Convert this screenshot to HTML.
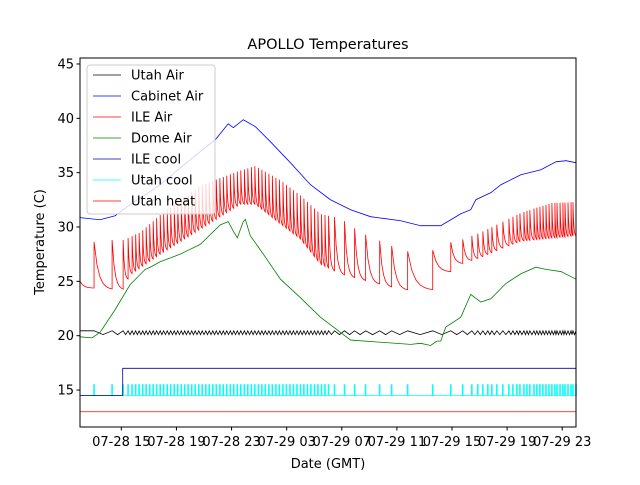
<!DOCTYPE html>
<html><head><meta charset="utf-8"><style>
body{margin:0;background:#fff}
svg text{font-family:"DejaVu Sans","Liberation Sans",sans-serif;fill:#000}
</style></head><body>
<svg id="chart" width="640" height="480" viewBox="0 0 640 480" xmlns="http://www.w3.org/2000/svg">
<rect width="640" height="480" fill="#fff"/>
<g id="plot"></g>
<rect x="80" y="58" width="496" height="369" fill="none" stroke="#000" stroke-width="1"/>
<g id="axes"></g>
<text x="328" y="49" font-size="14.5" text-anchor="middle">APOLLO Temperatures</text>
<text x="328" y="468" font-size="13" text-anchor="middle">Date (GMT)</text>
<text transform="translate(44,242) rotate(-90)" font-size="13" text-anchor="middle">Temperature (C)</text>
<g id="legend"></g>
</svg>
<script>
const yTicks=[15,20,25,30,35,40,45];
const xTickHours=[15,19,23,27,31,35,39,43,47];
const xTickLabels=["07-28 15","07-28 19","07-28 23","07-29 03","07-29 07","07-29 11","07-29 15","07-29 19","07-29 23"];
const seriesNames=["Utah Air","Cabinet Air","ILE Air","Dome Air","ILE cool","Utah cool","Utah heat"];
const cabTimes=[12,13.45,14.55,15.64,17.82,20,21.82,22.76,23.13,23.85,24.73,25.82,27.27,28.73,30.18,31.64,33.09,35.27,36.73,38.18,38.91,39.64,40.36,40.73,41.82,42.55,44,45.45,46.55,47.27,48];
const cabVals=[30.86,30.67,31.04,32.05,33.89,36.19,38.03,39.5,39.14,39.87,39.23,37.85,35.92,33.89,32.51,31.59,30.95,30.58,30.12,30.12,30.67,31.22,31.59,32.51,33.16,33.89,34.81,35.27,36.0,36.1,35.92];
const domeTimes=[12,12.87,13.45,14.55,15.64,16.73,17.09,17.82,19.27,20.73,22.18,22.76,23.13,23.42,23.85,24,24.36,25.09,26.55,28,29.45,30.91,31.64,33.82,36,36.73,37.45,37.89,38.18,38.55,39.64,40.36,41.09,41.82,42.91,44,45.09,45.82,46.91,48];
const domeVals=[19.9,19.8,20.3,22.4,24.7,26.1,26.3,26.8,27.5,28.4,30.2,30.5,29.6,29.0,30.5,30.7,29.2,27.9,25.2,23.5,21.7,20.3,19.6,19.4,19.2,19.3,19.1,19.5,19.5,20.8,21.7,23.8,23.1,23.4,24.8,25.7,26.3,26.1,25.9,25.2];
const ileBaseTimes=[12,12.87,14.18,15.13,15.64,17.82,20.73,23.64,24.73,26.55,28,29.45,30.91,32.36,35.27,37.45,38.18,39.64,41.09,42.55,44,48];
const ileBaseVals=[24.7,24.4,24.3,24.3,25.6,27.5,29.8,32.1,32.1,30.3,28.9,26.6,25.7,25.2,24.3,24.0,25.2,26.6,27.2,28.0,28.7,29.2];
const ilePeakTimes=[12,12.87,14.18,15.13,16.36,17.82,20.73,23.64,24.73,26.55,28,29.45,30.91,32.36,35.27,37.09,38.18,39.64,41.09,42.55,44,46.18,48];
const ilePeakVals=[28.6,28.6,28.8,28.8,29.5,31.1,33.8,35.2,35.6,34.3,32.9,31.2,30.8,29.5,27.9,27.4,28.4,28.8,29.5,30.4,31.3,32.2,32.3];
const spikeTimes=[13.02,14.33,15.13,15.49,15.78,16.04,16.29,16.55,16.80,17.06,17.31,17.56,17.82,18.07,18.33,18.58,18.84,19.09,19.35,19.60,19.85,20.11,20.36,20.62,20.87,21.13,21.38,21.64,21.89,22.15,22.40,22.65,22.91,23.16,23.42,23.67,23.93,24.18,24.44,24.69,24.95,25.20,25.45,25.71,25.96,26.22,26.47,26.73,26.98,27.24,27.49,27.75,28.00,28.25,28.51,28.76,29.02,29.27,29.53,29.78,30.04,30.47,31.2,31.93,32.73,33.75,34.62,35.78,37.6,38.91,39.78,40.44,40.87,41.24,41.6,41.89,42.25,42.69,43.13,43.42,43.71,43.93,44.22,44.44,44.65,44.95,45.16,45.38,45.6,45.82,46.04,46.25,46.47,46.62,46.84,47.05,47.2,47.42,47.64,47.78,48.0];
const utahCoolTimes=spikeTimes;
const utahCoolLevels=[14.5,15.5];
const utahAirLevels=[20.45,20.1];
const ileCoolTimes=[12,15.1,15.1,48];
const ileCoolVals=[14.5,14.5,17,17];
const utahHeatTimes=[12,48];
const utahHeatVals=[13,13];

const X0=80,X1=576,T0=12,T1=48,YB=427,YT=58,V0=11.6,V1=45.55;
const xs=t=>X0+(t-T0)/(T1-T0)*(X1-X0);
const ys=v=>YB-(v-V0)/(V1-V0)*(YB-YT);
function interp(ts,vs,t){if(t<=ts[0])return vs[0];for(let i=1;i<ts.length;i++){if(t<=ts[i]){const f=(t-ts[i-1])/(ts[i]-ts[i-1]||1);return vs[i-1]+f*(vs[i]-vs[i-1]);}}return vs[vs.length-1];}
const NS="http://www.w3.org/2000/svg";
const plot=document.getElementById('plot'),axes=document.getElementById('axes'),legend=document.getElementById('legend');
function mk(tag,attrs,parent){const e=document.createElementNS(NS,tag);for(const k in attrs)e.setAttribute(k,attrs[k]);parent.appendChild(e);return e;}
function line(pts,color,name){const p=mk('polyline',{points:pts.map(q=>q[0].toFixed(2)+','+q[1].toFixed(2)).join(' '),fill:'none',stroke:color,'stroke-width':0.8},plot);

return p;}

line(utahHeatTimes.map((t,i)=>[xs(t),ys(utahHeatVals[i])]),'#ff0000','utah-heat-line');
{const pts=[[xs(T0),ys(utahCoolLevels[0])]];utahCoolTimes.forEach(t=>{const x=xs(t);pts.push([x-0.4,ys(utahCoolLevels[0])],[x-0.4,ys(utahCoolLevels[1])],[x+0.4,ys(utahCoolLevels[1])],[x+0.4,ys(utahCoolLevels[0])]);});pts.push([xs(T1),ys(utahCoolLevels[0])]);line(pts,'#00ffff','utah-cool-line');}
line(ileCoolTimes.map((t,i)=>[xs(t),ys(ileCoolVals[i])]),'#0000aa','ile-cool-line');
{const pts=[[xs(T0),ys(utahAirLevels[0])]];for(let i=0;i<spikeTimes.length;i++){const t=spikeTimes[i];const nt=i+1<spikeTimes.length?spikeTimes[i+1]:T1;pts.push([xs(t),ys(utahAirLevels[0])],[xs(t+(nt-t)*0.5),ys(utahAirLevels[1])]);}line(pts,'#000000','utah-air-line');}
line(domeTimes.map((t,i)=>[xs(t),ys(domeVals[i])]),'#008000','dome-air-line');
{const pts=[];const first=[T0].concat(spikeTimes);for(let i=0;i<first.length;i++){const t=first[i];const nt=i+1<first.length?first[i+1]:T1;const pk=i==0?interp(ileBaseTimes,ileBaseVals,t)+0.3:interp(ilePeakTimes,ilePeakVals,t);const base=interp(ileBaseTimes,ileBaseVals,nt);
if(i>0)pts.push([xs(t),ys(interp(ileBaseTimes,ileBaseVals,t))]);
const n=6;for(let k=0;k<=n;k++){const f=k/n;const tt=t+(nt-t)*f;const w=(1-Math.exp(-4*f))/(1-Math.exp(-4));pts.push([xs(tt),ys(pk+(base-pk)*w)]);}}
line(pts,'#ff0000','ile-air-line');}
line(cabTimes.map((t,i)=>[xs(t),ys(cabVals[i])]),'#0000ff','cabinet-air-line');

yTicks.forEach(v=>{const y=ys(v);mk('line',{x1:X0-3.5,x2:X0,y1:y,y2:y,stroke:'#000'},axes);
const tx=mk('text',{x:X0-6,y:y+4.5,'font-size':13,'text-anchor':'end'},axes);tx.textContent=v;

});
xTickHours.forEach((h,i)=>{const x=xs(h);mk('line',{x1:x,x2:x,y1:YB,y2:YB+3.5,stroke:'#000'},axes);
const tx=mk('text',{x:x,y:YB+19,'font-size':13,'text-anchor':'middle'},axes);tx.textContent=xTickLabels[i];

});

const legColors=['#000000','#0000ff','#ff0000','#008000','#0000aa','#00ffff','#ff0000'];
mk('rect',{x:87,y:65,width:128,height:149,rx:3,fill:'#fff','fill-opacity':0.8,stroke:'#ccc'},legend);
seriesNames.forEach((n,i)=>{const y=75+i*21;const g=mk('g',{},legend);


mk('line',{x1:93,x2:121,y1:y,y2:y,stroke:legColors[i],'stroke-width':0.8},g);
const tx=mk('text',{x:131,y:y+4.5,'font-size':13},g);tx.textContent=n;});
</script>
</body></html>
